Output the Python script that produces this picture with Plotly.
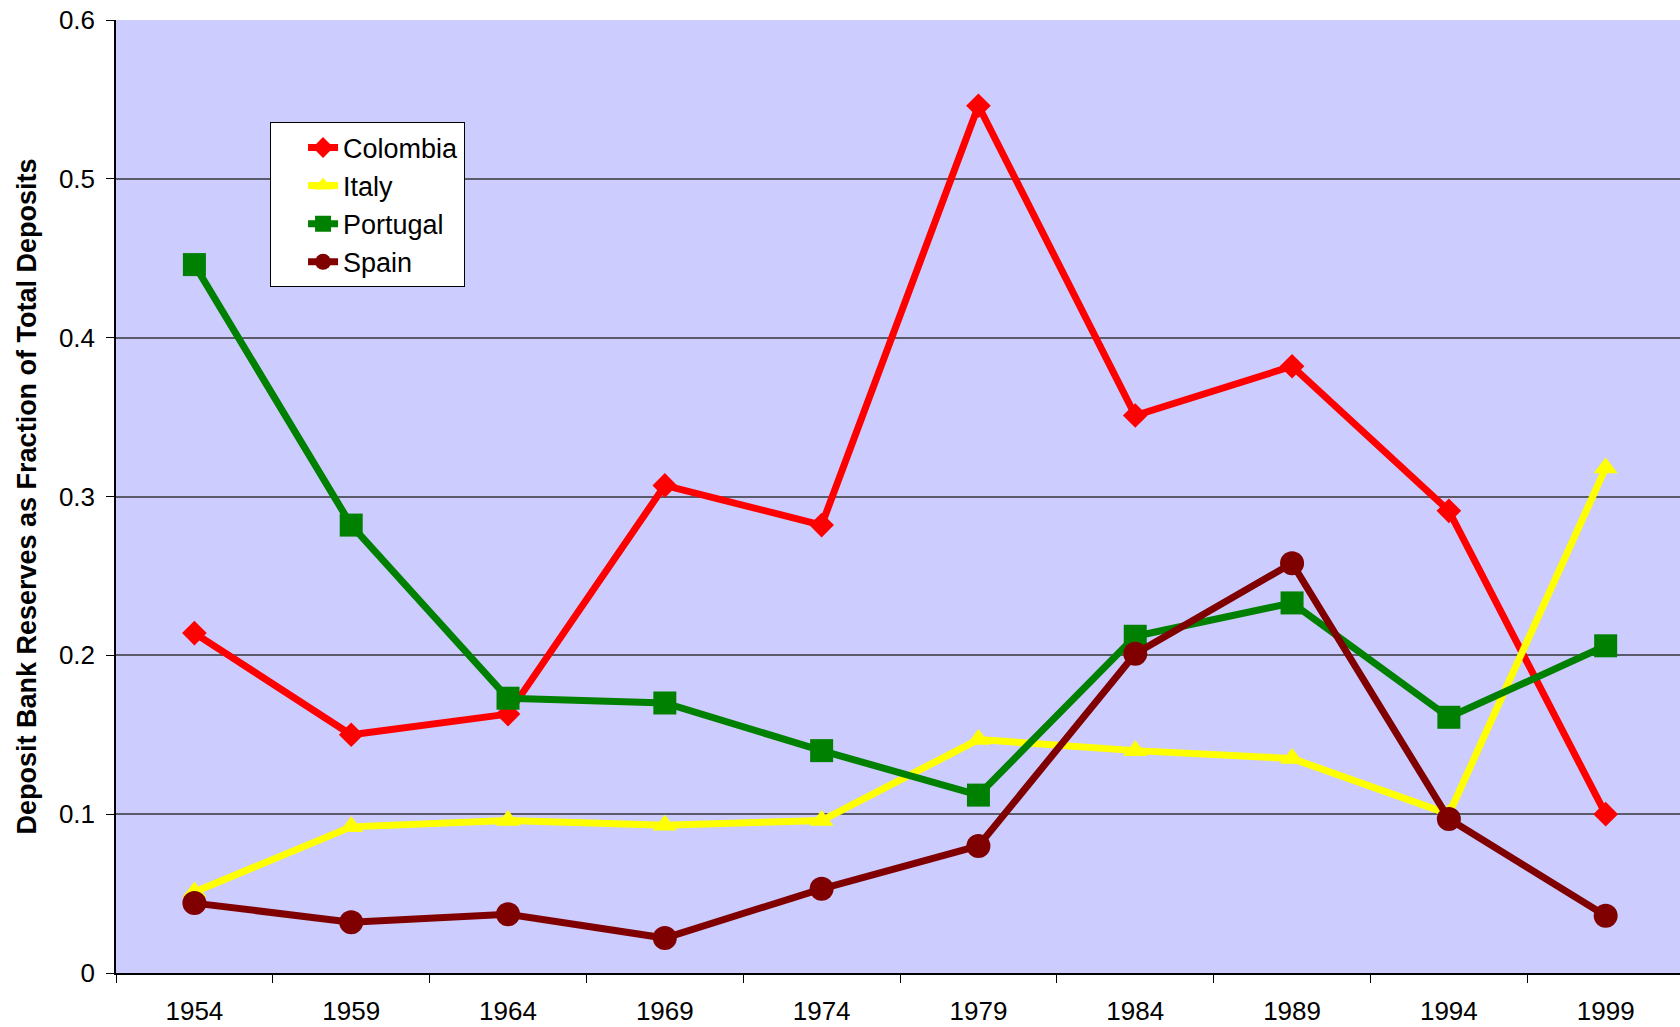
import plotly.graph_objects as go

years = ["1954", "1959", "1964", "1969", "1974", "1979", "1984", "1989", "1994", "1999"]
colombia = [0.214, 0.150, 0.163, 0.307, 0.282, 0.546, 0.351, 0.382, 0.291, 0.100]
italy = [0.051, 0.092, 0.096, 0.093, 0.096, 0.147, 0.140, 0.135, 0.100, 0.318]
portugal = [0.446, 0.282, 0.173, 0.170, 0.140, 0.112, 0.212, 0.233, 0.161, 0.206]
spain = [0.044, 0.032, 0.037, 0.022, 0.053, 0.080, 0.201, 0.258, 0.097, 0.036]

FONT = "Liberation Sans, Arial, sans-serif"

fig = go.Figure()
series = [
    ("Colombia", colombia, "#FF0000", "diamond", 19),
    ("Italy", italy, "#FFFF00", "triangle-up", 21),
    ("Portugal", portugal, "#008000", "square", 23),
    ("Spain", spain, "#800000", "circle", 24),
]
for name, vals, color, sym, size in series:
    fig.add_trace(go.Scatter(
        x=years, y=vals, name=name, mode="lines+markers",
        line=dict(color=color, width=7),
        marker=dict(symbol=sym, size=size, color=color, line=dict(width=0)),
    ))

fig.update_layout(
    width=1680, height=1027,
    margin=dict(l=116, r=0, t=19.5, b=54, autoexpand=False),
    paper_bgcolor="white",
    plot_bgcolor="#CCCCFF",
    font=dict(family=FONT, size=26, color="black"),
    showlegend=True,
    legend=dict(
        x=0.0985, y=0.8925, xanchor="left", yanchor="top",
        bgcolor="white", bordercolor="black", borderwidth=1,
        font=dict(family=FONT, size=27, color="black"),
        tracegroupgap=0, indentation=32,
    ),
)
fig.update_xaxes(
    type="category", range=[-0.5, 9.474],
    showline=True, linecolor="black", linewidth=1.5,
    ticks="outside", tickson="boundaries", ticklen=8, tickcolor="black",
    showgrid=False, zeroline=False,
    tickfont=dict(family=FONT, size=26),
    ticklabelstandoff=14,
)
fig.update_yaxes(
    range=[0, 0.6], dtick=0.1,
    showline=True, linecolor="black", linewidth=1.5,
    ticks="outside", ticklen=8, tickcolor="black",
    showgrid=True, gridcolor="#5a5a6a", gridwidth=1.5,
    zeroline=False,
    tickfont=dict(family=FONT, size=26),
    ticklabelstandoff=6,
)
fig.add_annotation(
    text="<b>Deposit Bank Reserves as Fraction of Total Deposits</b>",
    xref="paper", yref="paper", x=-0.0575, y=0.5,
    xanchor="center", yanchor="middle", textangle=-90, showarrow=False,
    font=dict(family=FONT, size=27, color="black"),
)

fig.write_html(
    "out.html",
    config={"displayModeBar": False},
    post_script="document.body.style.margin='0';document.body.style.overflow='hidden';",
)
